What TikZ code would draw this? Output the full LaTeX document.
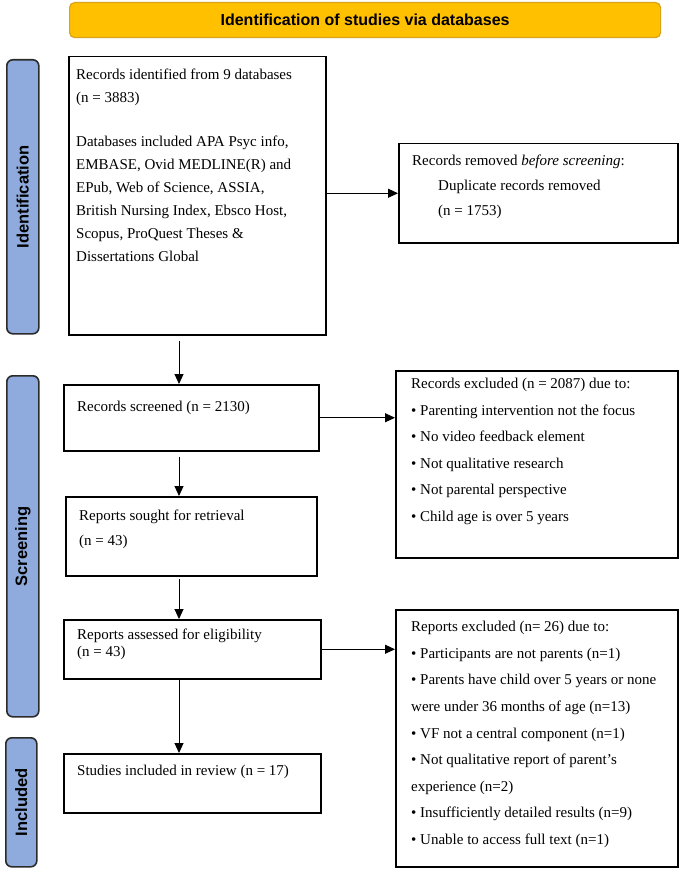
\documentclass[tikz,border=0pt]{standalone}
\usepackage{fontspec}
\setmainfont{Liberation Serif}
\newfontfamily\hdfont{Liberation Sans}
\usetikzlibrary{arrows.meta,calc}
\definecolor{hdfill}{HTML}{FFC000}
\definecolor{hdline}{HTML}{D9A21B}
\definecolor{sidefill}{HTML}{8FAADC}
\definecolor{sideline}{HTML}{2B2B2B}
\begin{document}
\begin{tikzpicture}[x=1pt,y=-1pt,
 box/.style={draw=black, line width=1.5pt, rectangle, inner sep=0pt, anchor=north west},
 txt/.style={inner sep=0pt, anchor=north west, align=left, font=\fontsize{15}{23}\selectfont},
 side/.style={draw=sideline, fill=sidefill, line width=1.6pt, rounded corners=6pt, inner sep=0pt, anchor=north west},
 sidelabel/.style={rotate=90, font=\hdfont\bfseries\fontsize{16.5}{18}\selectfont, text=black},
 arr/.style={-{Triangle[length=10pt,width=9pt]}, line width=0.9pt}]
\useasboundingbox (0,0) rectangle (685,869);
% header
\node[draw=hdline, fill=hdfill, line width=1.2pt, rounded corners=5pt, minimum width=591pt, minimum height=35pt, anchor=north west, inner sep=0pt, font=\hdfont\bfseries\fontsize{16}{18}\selectfont] (hdr) at (69,2) {Identification of studies via databases};
% side bars
\node[side, minimum width=32pt, minimum height=274pt] (sid) at (6,59) {};
\node[sidelabel] (sidl) at (sid.center) {Identification};
\node[side, minimum width=32pt, minimum height=341pt] (sscr) at (6,375) {};
\node[sidelabel] (sscrl) at (sscr.center) {Screening};
\node[side, minimum width=31pt, minimum height=129pt] (sinc) at (5,737) {};
\node[sidelabel] (sincl) at (sinc.center) {Included};
% boxes
\node[box, minimum width=257pt, minimum height=278pt] (ident) at (68,56) {};
\node[txt] (identt) at (76,69) {Records identified from 9 databases\\(n = 3883)\\[21pt]Databases included APA Psyc info,\\EMBASE, Ovid MEDLINE(R) and\\EPub, Web of Science, ASSIA,\\British Nursing Index, Ebsco Host,\\Scopus, ProQuest Theses \&\\Dissertations Global};
\node[box, minimum width=279pt, minimum height=99pt] (removed) at (398,143) {};
\node[txt, font=\fontsize{15}{25}\selectfont] (removedt) at (412,155) {Records removed \textit{before screening}:\\\hspace*{26pt}Duplicate records removed\\\hspace*{26pt}(n = 1753)};
\node[box, minimum width=255pt, minimum height=66pt] (screened) at (63,384) {};
\node[txt] (screenedt) at (77,401) {Records screened (n = 2130)};
\node[box, minimum width=282pt, minimum height=187pt] (excl1) at (395,370) {};
\node[txt, font=\fontsize{15}{26.5}\selectfont] (excl1t) at (411,378) {Records excluded (n = 2087) due to:\\• Parenting intervention not the focus\\• No video feedback element\\• Not qualitative research\\• Not parental perspective\\• Child age is over 5 years};
\node[box, minimum width=251pt, minimum height=79pt] (sought) at (65,496) {};
\node[txt, font=\fontsize{15}{25}\selectfont] (soughtt) at (79,510) {Reports sought for retrieval\\(n = 43)};
\node[box, minimum width=257pt, minimum height=59pt] (assessed) at (63,619) {};
\node[txt, font=\fontsize{15}{17}\selectfont] (assessedt) at (77,629) {Reports assessed for eligibility\\(n = 43)};
\node[box, minimum width=282pt, minimum height=257pt] (excl2) at (395,609) {};
\node[txt, font=\fontsize{15}{26.6}\selectfont] (excl2t) at (411,621) {Reports excluded (n= 26) due to:\\• Participants are not parents (n=1)\\• Parents have child over 5 years or none\\were under 36 months of age (n=13)\\• VF not a central component (n=1)\\• Not qualitative report of parent’s\\experience (n=2)\\• Insufficiently detailed results (n=9)\\• Unable to access full text (n=1)};
\node[box, minimum width=257pt, minimum height=59pt] (incl) at (63,753) {};
\node[txt] (inclt) at (77,765) {Studies included in review (n = 17)};
% connectors
\coordinate (ax) at (179,0);
\draw[arr, shorten <=5pt] (ident.south -| ax) -- (screened.north -| ax);
\draw[arr, shorten <=5pt] (screened.south -| ax) -- (sought.north -| ax);
\draw[arr, shorten <=2pt] (sought.south -| ax) -- (assessed.north -| ax);
\draw[arr] (assessed.south -| ax) -- (incl.north -| ax);
\draw[arr] (ident.east |- removed.west) -- (removed.west);
\draw[arr] (screened.east) -- (screened.east -| excl1.west);
\draw[arr] (assessed.east) -- (assessed.east -| excl2.west);
\end{tikzpicture}
\end{document}
